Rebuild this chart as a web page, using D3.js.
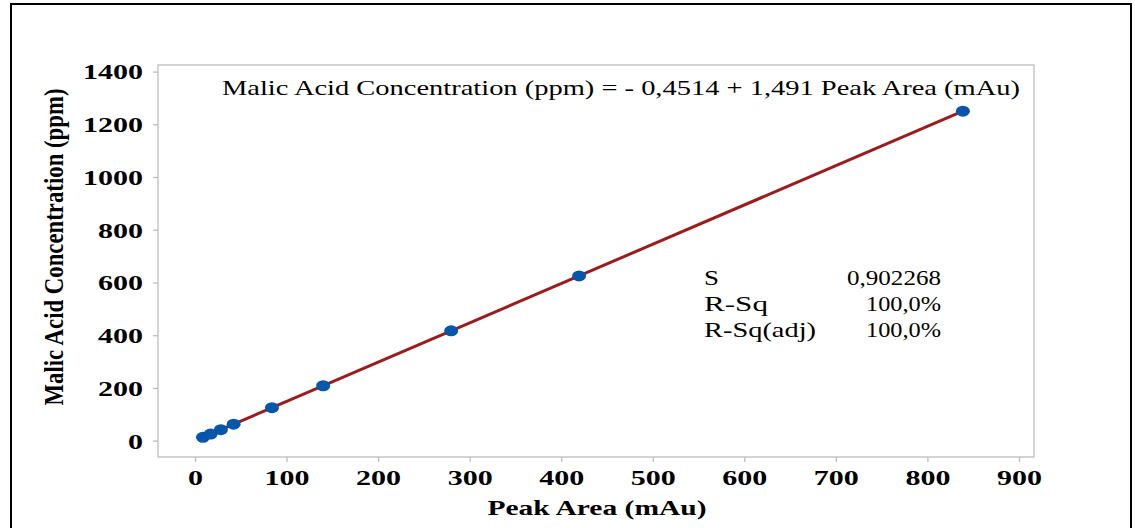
<!DOCTYPE html>
<html><head><meta charset="utf-8">
<script src="https://cdn.jsdelivr.net/npm/d3@7"></script>
<style>body{margin:0;background:#fff}svg{display:block}</style>
</head><body>
<svg id="c" width="1135" height="528"></svg>
<script>
const peakArea = [8.7, 17.1, 28.3, 42.2, 84.1, 140.0, 279.8, 419.5, 838.7];
const concentration = [12.5, 25, 41.7, 62.5, 125, 208.3, 416.7, 625, 1250];
const fitIntercept = -0.4514, fitSlope = 1.491;
const xTicks = [0,100,200,300,400,500,600,700,800,900];
const yTicks = [0,200,400,600,800,1000,1200,1400];
const equationText = "Malic Acid Concentration (ppm) = - 0,4514 + 1,491 Peak Area (mAu)";
const statLabels = ["S","R-Sq","R-Sq(adj)"];
const statValues = ["0,902268","100,0%","100,0%"];

const svg = d3.select("#c");
const L=158,T=65,R=1034,B=457;
const x = d3.scaleLinear().domain([-40.4,916.4]).range([L,R]);
const y = d3.scaleLinear().domain([-62,1425]).range([B,T]);
const serif = "'Liberation Serif','Times New Roman',serif";

// outer border
svg.append("rect").attr("x",11).attr("y",4).attr("width",1120).attr("height",540)
  .attr("fill","none").attr("stroke","#000").attr("stroke-width",2);

// plot frame
svg.append("rect").attr("x",L).attr("y",T).attr("width",R-L).attr("height",B-T)
  .attr("fill","none").attr("stroke","#bdbdbd").attr("stroke-width",1.3);

const xa = svg.append("g").attr("transform",`translate(0,${B})`)
  .call(d3.axisBottom(x).tickValues(xTicks).tickSize(5).tickPadding(6).tickFormat(d3.format("d")));
const ya = svg.append("g").attr("transform",`translate(${L},0)`)
  .call(d3.axisLeft(y).tickValues(yTicks).tickSize(5).tickPadding(10).tickFormat(d3.format("d")));
[xa,ya].forEach(a=>{
  a.select(".domain").remove();
  a.selectAll(".tick line").attr("stroke","#bdbdbd").attr("stroke-width",1.3);
  a.selectAll("text").attr("font-family",serif).attr("font-weight","bold")
   .attr("font-size",21).attr("fill","#000")
   .attr("textLength",d=>String(d).length*15).attr("lengthAdjust","spacingAndGlyphs");
});
ya.selectAll("text").attr("dy","0.35em");
xa.selectAll("text").attr("dy","0.8em");

// fitted line
const xs = [d3.min(peakArea), d3.max(peakArea)];
svg.append("line")
  .attr("x1",x(xs[0])).attr("y1",y(fitIntercept+fitSlope*xs[0]))
  .attr("x2",x(xs[1])).attr("y2",y(fitIntercept+fitSlope*xs[1]))
  .attr("stroke","#9b1c1c").attr("stroke-width",3);

// points
svg.selectAll("ellipse.p").data(peakArea.map((v,i)=>[v,concentration[i]])).enter()
  .append("ellipse").attr("class","p")
  .attr("cx",d=>x(d[0])).attr("cy",d=>y(d[1])).attr("rx",7).attr("ry",5.5)
  .attr("fill","#0656aa");

// equation
svg.append("text").attr("x",1020).attr("y",95).attr("text-anchor","end")
  .attr("font-family",serif).attr("font-size",21).attr("fill","#000")
  .attr("textLength",798).attr("lengthAdjust","spacingAndGlyphs")
  .text(equationText);

// stats
const labelW=[15,64,112], valW=[94,75,75];
statLabels.forEach((s,i)=>{
  svg.append("text").attr("x",704).attr("y",285+i*26)
    .attr("font-family",serif).attr("font-size",21).attr("fill","#000")
    .attr("textLength",labelW[i]).attr("lengthAdjust","spacingAndGlyphs").text(s);
  svg.append("text").attr("x",941).attr("y",285+i*26).attr("text-anchor","end")
    .attr("font-family",serif).attr("font-size",21).attr("fill","#000")
    .attr("textLength",valW[i]).attr("lengthAdjust","spacingAndGlyphs").text(statValues[i]);
});

// axis titles
svg.append("text").attr("x",597).attr("y",515).attr("text-anchor","middle")
  .attr("font-family",serif).attr("font-weight","bold").attr("font-size",21)
  .attr("textLength",219).attr("lengthAdjust","spacingAndGlyphs")
  .attr("fill","#000").text("Peak Area (mAu)");

svg.append("text").attr("transform","translate(63,247) rotate(-90)").attr("text-anchor","middle")
  .attr("font-family",serif).attr("font-weight","bold").attr("font-size",27)
  .attr("textLength",317).attr("lengthAdjust","spacingAndGlyphs")
  .attr("fill","#000").text("Malic Acid Concentration (ppm)");
</script>
</body></html>
